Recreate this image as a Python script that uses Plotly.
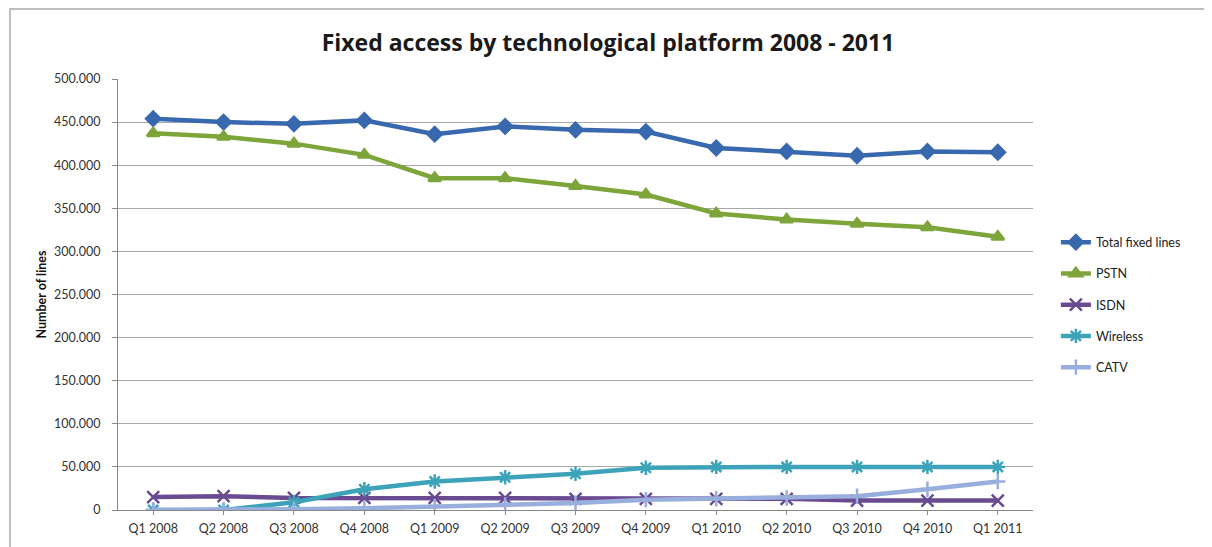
import plotly.graph_objects as go

quarters = ["Q1 2008", "Q2 2008", "Q3 2008", "Q4 2008", "Q1 2009", "Q2 2009", "Q3 2009",
            "Q4 2009", "Q1 2010", "Q2 2010", "Q3 2010", "Q4 2010", "Q1 2011"]
total_fixed = [454000, 450000, 448000, 452000, 436000, 445000, 441000, 439000, 420000, 416000, 411000, 416000, 415000]
pstn = [437000, 433000, 425000, 412000, 385000, 385000, 376000, 366000, 344000, 337000, 332000, 328000, 317000]
isdn = [15000, 16000, 14000, 14000, 14000, 14000, 13000, 13000, 13000, 13000, 11000, 11000, 11000]
wireless = [0, 0, 9000, 24000, 33000, 38000, 42000, 49000, 50000, 50000, 50000, 50000, 50000]
catv = [0, 0, 1000, 2000, 4000, 6000, 8000, 12000, 13000, 14000, 16000, 24000, 33000]

series = [
    ("Total fixed lines", total_fixed, "#3868AE", "diamond", 11),
    ("PSTN", pstn, "#7DA53A", "triangle-up", 11),
    ("ISDN", isdn, "#6A4B92", "x-thin", 12),
    ("Wireless", wireless, "#3CA3B8", "asterisk", 12),
    ("CATV", catv, "#98AEDC", "cross-thin", 11),
]

fig = go.Figure()
for name, vals, color, sym, size in series:
    fig.add_trace(go.Scatter(
        x=quarters, y=vals, name=name, mode="lines+markers", legendgroup=name,
        line=dict(color=color, width=4.5),
        marker=dict(symbol=sym, size=size, color=color,
                    line=dict(color=color, width=2.5)),
    ))

# page body adds an 8px offset; figure is sized to compensate
W, H = 1204, 539
L, R, T, B = 110, 179, 71, 37
PW, PH = W - L - R, H - T - B

fig.update_layout(
    width=W, height=H,
    margin=dict(l=L, r=R, t=T, b=B),
    paper_bgcolor="white", plot_bgcolor="white",
    separators=",.",
    title=dict(text="<b>Fixed access by technological platform 2008 - 2011</b>",
               x=(608 - 8) / W, xanchor="center", y=1 - 35 / H, yanchor="middle",
               font=dict(family="Open Sans, sans-serif", size=23, color="#1a1a1a")),
    font=dict(family="Lato, Open Sans, sans-serif", color="#333333"),
    showlegend=True,
    legend=dict(x=1.025, xanchor="left", y=(510 - 305) / 431, yanchor="middle",
                font=dict(size=12.5, color="#222222"), tracegroupgap=12,
                itemwidth=30, bgcolor="rgba(0,0,0,0)"),
    shapes=[dict(type="rect", xref="paper", yref="paper",
                 x0=-108 / PW, x1=1090 / PW, y0=-60 / PH, y1=1 + 70 / PH,
                 line=dict(color="#BDBDBD", width=2), layer="below")],
)

fig.update_xaxes(
    type="category", range=[-0.5, 12.5],
    showline=True, linecolor="#888888", linewidth=1,
    showgrid=False, ticks="outside", ticklen=4, tickcolor="#888888",
    ticklabelstandoff=3,
    tickfont=dict(size=12.5, color="#333333"),
)
fig.update_yaxes(
    range=[0, 500000], dtick=50000, tickformat=",d",
    showline=True, linecolor="#888888", linewidth=1,
    showgrid=True, gridcolor="#A8A8A8", gridwidth=1,
    ticks="outside", ticklen=5, tickcolor="#888888",
    ticklabelstandoff=9,
    tickfont=dict(size=12.5, color="#333333"),
    title=dict(text="<b>Number of lines</b>", font=dict(size=12.5, color="#111111"), standoff=4),
    zeroline=False,
)

fig.write_html("out.html")
